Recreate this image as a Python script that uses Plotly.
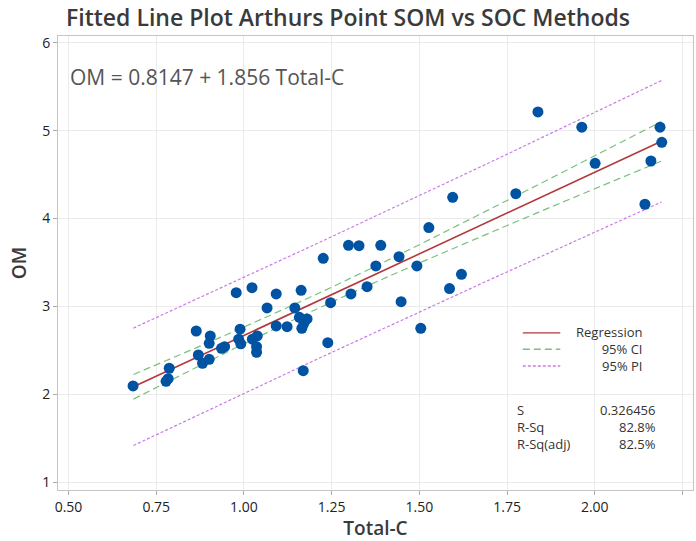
import plotly.graph_objects as go

total_c = [0.684, 0.778, 0.784, 0.787, 0.864, 0.870, 0.882, 0.901, 0.901, 0.904,
           0.936, 0.945, 0.978, 0.985, 0.989, 0.991, 1.023, 1.024, 1.036, 1.036,
           1.038, 1.066, 1.092, 1.092, 1.123, 1.145, 1.158, 1.163, 1.165, 1.169,
           1.180, 1.171, 1.226, 1.239, 1.247, 1.298, 1.305, 1.328, 1.351, 1.376,
           1.390, 1.442, 1.448, 1.493, 1.504, 1.527, 1.586, 1.595, 1.620, 1.775,
           1.838, 1.963, 2.001, 2.143, 2.160, 2.186, 2.191]
om = [2.096, 2.149, 2.179, 2.297, 2.721, 2.448, 2.354, 2.399, 2.581, 2.665,
      2.524, 2.543, 3.157, 2.628, 2.741, 2.575, 3.214, 2.628, 2.543, 2.479,
      2.665, 2.983, 3.142, 2.778, 2.770, 2.983, 2.877, 3.184, 2.752, 2.270,
      2.858, 2.809, 3.548, 2.588, 3.043, 3.696, 3.142, 3.692, 3.225, 3.461,
      3.696, 3.567, 3.055, 3.461, 2.752, 3.897, 3.203, 4.242, 3.366, 4.283,
      5.213, 5.040, 4.629, 4.163, 4.655, 5.040, 4.868]

# fitted line ends
fit_x = [0.685, 2.19]
fit_y = [2.086, 4.879]

# confidence band
ci_x = [0.685, 0.9, 1.0, 1.21, 1.35, 1.5, 1.8, 2.0, 2.19]
ci_upper = [2.226, 2.592, 2.766, 3.145, 3.410, 3.703, 4.307, 4.715, 5.104]
ci_lower = [1.946, 2.378, 2.575, 2.976, 3.231, 3.494, 4.005, 4.339, 4.654]

# prediction band
pi_x = [0.685, 1.21, 1.7, 2.19]
pi_upper = [2.754, 3.719, 4.637, 5.570]
pi_lower = [1.418, 2.403, 3.303, 4.188]

legend_names = ["Regression", "95% CI", "95% PI"]
stat_names = ["S", "R-Sq", "R-Sq(adj)"]
stat_values = ["0.326456", "82.8%", "82.5%"]

RED = "#b2393b"
GREEN = "#7cc07c"
PURPLE = "#c97be6"
BLUE = "#0053a3"
FONT = "Open Sans"

fig = go.Figure()

for y in (pi_upper, pi_lower):
    fig.add_trace(go.Scatter(x=pi_x, y=y, mode="lines",
                             line=dict(color=PURPLE, width=1.2, dash="3px,2px"),
                             hoverinfo="skip"))
for y in (ci_upper, ci_lower):
    fig.add_trace(go.Scatter(x=ci_x, y=y, mode="lines", line_shape="spline",
                             line=dict(color=GREEN, width=1.2, dash="7px,4px"),
                             hoverinfo="skip"))
fig.add_trace(go.Scatter(x=fit_x, y=fit_y, mode="lines",
                         line=dict(color=RED, width=1.6)))
fig.add_trace(go.Scatter(x=total_c, y=om, mode="markers",
                         marker=dict(color=BLUE, size=11, line=dict(width=0))))

# legend drawn by hand so the labels sit right-aligned as in Minitab
samples = [(RED, "solid", 0.346), (GREEN, "7px,4px", 0.310), (PURPLE, "3px,2px", 0.273)]
for col, dash, yy in samples:
    fig.add_shape(type="line", xref="paper", yref="paper",
                  x0=0.732, x1=0.791, y0=yy, y1=yy,
                  line=dict(color=col, width=1.4, dash=dash))
txt_font = dict(family=FONT, size=13, color="#333")
fig.add_annotation(xref="paper", yref="paper", x=0.921, y=0.310,
                   text="<br>".join(legend_names), align="right",
                   showarrow=False, xanchor="right", yanchor="middle",
                   borderpad=0, font=txt_font)

fig.add_annotation(xref="paper", yref="paper", x=0.722, y=0.139,
                   text="<br>".join(stat_names), align="left",
                   showarrow=False, xanchor="left", yanchor="middle",
                   borderpad=0, font=txt_font)
fig.add_annotation(xref="paper", yref="paper", x=0.944, y=0.139,
                   text="<br>".join(stat_values), align="right",
                   showarrow=False, xanchor="right", yanchor="middle",
                   borderpad=0, font=txt_font)

fig.add_annotation(xref="paper", yref="paper", x=0.015, y=0.910,
                   text="OM = 0.8147 + 1.856 Total-C", showarrow=False,
                   xanchor="left", yanchor="middle",
                   font=dict(family=FONT, size=21, color="#555"))

axis_common = dict(showgrid=True, gridcolor="#ebebeb", gridwidth=1, automargin=False,
                   zeroline=False, showline=True, linecolor="#c4c4c4", mirror=True,
                   ticks="outside", ticklen=4, tickcolor="#aaa",
                   tickfont=dict(family=FONT, size=14, color="#222"))

fig.update_layout(
    width=696, height=541,
    margin=dict(l=58, r=3, t=36, b=51),
    paper_bgcolor="white", plot_bgcolor="white",
    showlegend=False,
    title=dict(text="Fitted Line Plot Arthurs Point SOM vs SOC Methods",
               x=0.5, xanchor="center", y=0.967, yanchor="middle",
               font=dict(family=FONT, size=23, color="#3a3a3a", weight=600)),
    xaxis=dict(range=[0.470, 2.280], tickvals=[0.5, 0.75, 1.0, 1.25, 1.5, 1.75, 2.0, 2.25],
               ticktext=["0.50", "0.75", "1.00", "1.25", "1.50", "1.75", "2.00", "2.25"],
               title=dict(text="Total-C", standoff=2,
                          font=dict(family=FONT, size=19, color="#3a3a3a", weight=600)),
               **axis_common),
    yaxis=dict(range=[0.912, 6.077], tickvals=[1, 2, 3, 4, 5, 6],
               title=dict(text="OM", standoff=10,
                          font=dict(family=FONT, size=19, color="#3a3a3a", weight=600)),
               **axis_common),
)

# drop the default 8px page margin so the figure fills the window exactly
fig.write_html("out.html", config={"displayModeBar": False},
               post_script="document.body.style.margin = '0';")
